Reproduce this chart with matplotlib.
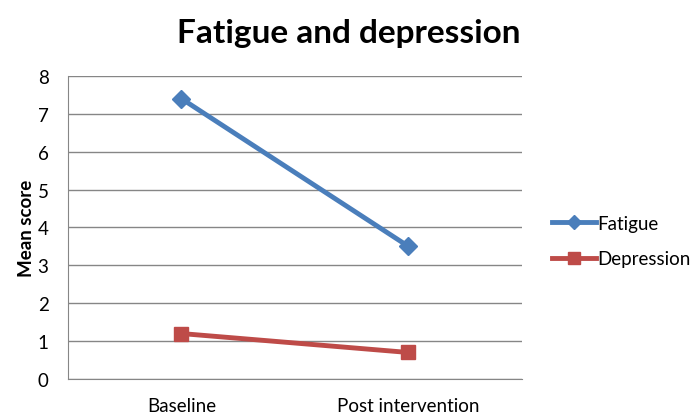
import matplotlib
matplotlib.use('Agg')
import matplotlib.pyplot as plt

categories = ['Baseline', 'Post intervention']
fatigue = [7.4, 3.5]
depression = [1.2, 0.7]

plt.rcParams['font.family'] = ['Lato', 'DejaVu Sans']

fig = plt.figure(figsize=(6.91, 4.14), dpi=100)
ax = fig.add_axes([0.0984, 0.0821, 0.657, 0.732])

x = range(len(categories))
ax.plot(x, fatigue, color='#4A7EBB', lw=3.5, marker='D', ms=9, label='Fatigue')
ax.plot(x, depression, color='#BE4B48', lw=3.5, marker='s', ms=10, label='Depression')

ax.set_xlim(-0.5, 1.5)
ax.set_ylim(0, 8)
ax.set_yticks(range(0, 9))
ax.set_xticks(list(x))
ax.set_xticklabels(categories)
ax.tick_params(axis='both', length=0, labelsize=13.5)
ax.tick_params(axis='x', pad=13)
ax.tick_params(axis='y', pad=14)
ax.grid(axis='y', color='#868686', lw=1)
ax.set_axisbelow(True)
for s in ['top', 'right']:
    ax.spines[s].set_visible(False)
for s in ['left', 'bottom']:
    ax.spines[s].set_color('#868686')

ax.set_ylabel('Mean score', fontsize=13.5, fontweight='bold', labelpad=2)
fig.suptitle('Fatigue and depression', fontsize=24, fontweight='bold', x=0.505, y=0.955)

ax.legend(loc='center left', bbox_to_anchor=(1.03, 0.455), frameon=False,
          fontsize=13.5, handlelength=2.3, handletextpad=0.1, labelspacing=1.0,
          markerscale=0.8)

fig.savefig('out.png', dpi=100)
